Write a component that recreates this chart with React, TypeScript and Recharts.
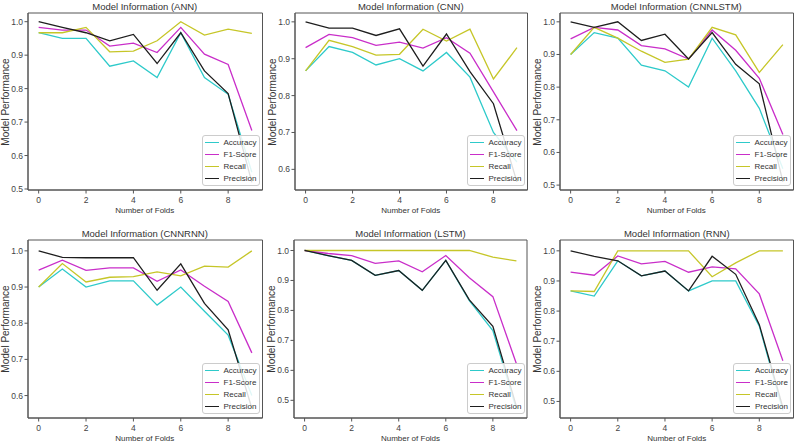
import React from 'react'
import { LineChart, Line, XAxis, YAxis, ReferenceArea, Legend } from 'recharts'

const FONT = '"Liberation Sans", Arial, sans-serif'

const folds = [0, 1, 2, 3, 4, 5, 6, 7, 8, 9]
const xTicks = [0, 2, 4, 6, 8]
const xDomain: [number, number] = [-0.45, 9.45]
const yTicksWide = [0.5, 0.6, 0.7, 0.8, 0.9, 1.0]
const yTicksNarrow = [0.6, 0.7, 0.8, 0.9, 1.0]

const annAccuracy = [0.967, 0.95, 0.95, 0.867, 0.883, 0.833, 0.967, 0.833, 0.783, 0.55]
const annF1 = [0.983, 0.975, 0.975, 0.927, 0.936, 0.908, 0.983, 0.903, 0.872, 0.675]
const annRecall = [0.967, 0.967, 0.983, 0.91, 0.912, 0.943, 1.0, 0.96, 0.978, 0.965]
const annPrecision = [1.0, 0.983, 0.967, 0.943, 0.962, 0.875, 0.967, 0.853, 0.785, 0.52]

const cnnAccuracy = [0.867, 0.933, 0.917, 0.883, 0.9, 0.867, 0.917, 0.85, 0.7, 0.62]
const cnnF1 = [0.93, 0.966, 0.957, 0.936, 0.945, 0.929, 0.957, 0.915, 0.81, 0.705]
const cnnRecall = [0.867, 0.95, 0.933, 0.91, 0.912, 0.98, 0.948, 0.98, 0.845, 0.93]
const cnnPrecision = [1.0, 0.983, 0.983, 0.963, 0.981, 0.88, 0.967, 0.865, 0.778, 0.566]

const cnnlstmAccuracy = [0.9, 0.967, 0.95, 0.867, 0.85, 0.8, 0.95, 0.85, 0.735, 0.55]
const cnnlstmF1 = [0.948, 0.983, 0.975, 0.927, 0.917, 0.886, 0.975, 0.913, 0.827, 0.655]
const cnnlstmRecall = [0.9, 0.983, 0.95, 0.91, 0.876, 0.886, 0.983, 0.96, 0.845, 0.93]
const cnnlstmPrecision = [1.0, 0.983, 1.0, 0.943, 0.962, 0.886, 0.967, 0.87, 0.81, 0.51]

const cnnrnnAccuracy = [0.9, 0.95, 0.9, 0.917, 0.917, 0.85, 0.9, 0.833, 0.767, 0.6]
const cnnrnnF1 = [0.947, 0.974, 0.946, 0.953, 0.953, 0.916, 0.947, 0.902, 0.86, 0.718]
const cnnrnnRecall = [0.9, 0.965, 0.914, 0.927, 0.929, 0.942, 0.931, 0.958, 0.955, 1.0]
const cnnrnnPrecision = [1.0, 0.982, 0.981, 0.981, 0.981, 0.891, 0.964, 0.855, 0.782, 0.565]

const lstmAccuracy = [1.0, 0.983, 0.967, 0.917, 0.933, 0.867, 0.967, 0.833, 0.733, 0.47]
const lstmF1 = [1.0, 0.99, 0.983, 0.957, 0.965, 0.929, 0.983, 0.909, 0.846, 0.622]
const lstmRecall = [1.0, 1.0, 1.0, 1.0, 1.0, 1.0, 1.0, 1.0, 0.978, 0.965]
const lstmPrecision = [1.0, 0.983, 0.967, 0.917, 0.933, 0.867, 0.967, 0.835, 0.747, 0.48]

const rnnAccuracy = [0.867, 0.85, 0.967, 0.917, 0.933, 0.867, 0.9, 0.9, 0.75, 0.47]
const rnnF1 = [0.929, 0.919, 0.983, 0.957, 0.965, 0.929, 0.947, 0.94, 0.857, 0.635]
const rnnRecall = [0.867, 0.865, 1.0, 1.0, 1.0, 1.0, 0.914, 0.96, 1.0, 1.0]
const rnnPrecision = [1.0, 0.982, 0.967, 0.917, 0.933, 0.867, 0.982, 0.922, 0.755, 0.48]

const SERIES = [
  { key: 'Accuracy', color: '#2ecaca' },
  { key: 'F1-Score', color: '#c92ec9' },
  { key: 'Recall', color: '#c6c628' },
  { key: 'Precision', color: '#1e1e1e' },
]

type Box = { left: number; top: number; width: number; height: number }

interface PanelProps {
  title: string
  box: Box
  yDomain: [number, number]
  yTicks: number[]
  acc: number[]
  f1: number[]
  rec: number[]
  prec: number[]
}

const YW = 30
const XH = 30
const MT = 1
const MR = 3

function LegendBox() {
  return (
    <div
      style={{
        width: 58,
        height: 51,
        boxSizing: 'border-box',
        border: '1px solid #cccccc',
        borderRadius: 3,
        background: 'rgba(255,255,255,0.85)',
        padding: '1px 0 0 2px',
        fontFamily: FONT,
        fontSize: 8,
        color: '#333',
      }}
    >
      {SERIES.map(s => (
        <div key={s.key} style={{ display: 'flex', alignItems: 'center', height: 12 }}>
          <span
            style={{ display: 'inline-block', flexShrink: 0, width: 14, height: 1.5, background: s.color, marginRight: 5 }}
          />
          <span style={{ whiteSpace: 'nowrap', lineHeight: '10px' }}>{s.key}</span>
        </div>
      ))}
    </div>
  )
}

function Panel({ title, box, yDomain, yTicks, acc, f1, rec, prec }: PanelProps) {
  const data = folds.map((fold, i) => ({
    fold,
    Accuracy: acc[i],
    'F1-Score': f1[i],
    Recall: rec[i],
    Precision: prec[i],
  }))
  const tickStyle = { fontSize: 8.5, fill: '#444', fontFamily: FONT }

  return (
    <div style={{ position: 'absolute', left: box.left - YW, top: box.top - MT }}>
      <div
        style={{
          position: 'absolute',
          left: YW,
          width: box.width,
          top: MT - 12,
          lineHeight: '12px',
          textAlign: 'center',
          fontFamily: FONT,
          fontSize: 9.5,
          color: '#333',
          whiteSpace: 'nowrap',
        }}
      >
        {title}
      </div>
      <LineChart
        width={YW + box.width + MR}
        height={MT + box.height + XH}
        data={data}
        margin={{ top: MT, right: MR, left: 0, bottom: 0 }}
      >
        <XAxis
          dataKey="fold"
          type="number"
          domain={xDomain}
          ticks={xTicks}
          allowDataOverflow
          height={XH}
          tickSize={3.5}
          tickMargin={3}
          stroke="#555"
          tick={tickStyle}
        />
        <YAxis
          type="number"
          domain={yDomain}
          ticks={yTicks}
          allowDataOverflow
          width={YW}
          tickSize={3.5}
          tickMargin={1.5}
          stroke="#555"
          tick={tickStyle}
          tickFormatter={(v: number) => v.toFixed(1)}
        />
        <ReferenceArea
          x1={xDomain[0]}
          x2={xDomain[1]}
          y1={yDomain[0]}
          y2={yDomain[1]}
          fill="none"
          stroke="#555"
          strokeWidth={1}
          ifOverflow="visible"
        />
        {SERIES.map(s => (
          <Line
            key={s.key}
            type="linear"
            dataKey={s.key}
            stroke={s.color}
            strokeWidth={1.3}
            dot={false}
            isAnimationActive={false}
          />
        ))}
        <Legend
          layout="horizontal"
          verticalAlign="middle"
          align="center"
          content={() => <LegendBox />}
          wrapperStyle={{ left: YW + box.width - 2.5 - 58, top: MT + box.height - 4.5 - 51, width: 58, height: 51 }}
        />
      </LineChart>
      <div
        style={{
          position: 'absolute',
          left: 7,
          top: MT + box.height / 2,
          transform: 'translate(-50%, -50%) rotate(-90deg)',
          fontFamily: FONT,
          fontSize: 10,
          color: '#333',
          whiteSpace: 'nowrap',
        }}
      >
        Model Performance
      </div>
      <div
        style={{
          position: 'absolute',
          left: YW,
          width: box.width,
          top: MT + box.height + 15,
          lineHeight: '12px',
          textAlign: 'center',
          fontFamily: FONT,
          fontSize: 8,
          color: '#333',
          whiteSpace: 'nowrap',
        }}
      >
        Number of Folds
      </div>
    </div>
  )
}

export default function App() {
  return (
    <div style={{ position: 'absolute', left: 0, top: 0, width: 796, height: 445, background: '#fff', overflow: 'hidden' }}>
      <Panel
        title="Model Information (ANN)"
        box={{ left: 27.5, top: 13, width: 234.5, height: 177 }}
        yDomain={[0.497, 1.026]}
        yTicks={yTicksWide}
        acc={annAccuracy}
        f1={annF1}
        rec={annRecall}
        prec={annPrecision}
      />
      <Panel
        title="Model Information (CNN)"
        box={{ left: 294.5, top: 13, width: 232.5, height: 177 }}
        yDomain={[0.544, 1.024]}
        yTicks={yTicksNarrow}
        acc={cnnAccuracy}
        f1={cnnF1}
        rec={cnnRecall}
        prec={cnnPrecision}
      />
      <Panel
        title="Model Information (CNNLSTM)"
        box={{ left: 559.5, top: 13, width: 233.5, height: 177 }}
        yDomain={[0.485, 1.027]}
        yTicks={yTicksWide}
        acc={cnnlstmAccuracy}
        f1={cnnlstmF1}
        rec={cnnlstmRecall}
        prec={cnnlstmPrecision}
      />
      <Panel
        title="Model Information (CNNRNN)"
        box={{ left: 27.5, top: 240, width: 234.5, height: 178 }}
        yDomain={[0.538, 1.03]}
        yTicks={yTicksNarrow}
        acc={cnnrnnAccuracy}
        f1={cnnrnnF1}
        rec={cnnrnnRecall}
        prec={cnnrnnPrecision}
      />
      <Panel
        title="Model Information (LSTM)"
        box={{ left: 294, top: 240, width: 233, height: 178 }}
        yDomain={[0.441, 1.035]}
        yTicks={yTicksWide}
        acc={lstmAccuracy}
        f1={lstmF1}
        rec={lstmRecall}
        prec={lstmPrecision}
      />
      <Panel
        title="Model Information (RNN)"
        box={{ left: 560, top: 240, width: 233.5, height: 178 }}
        yDomain={[0.445, 1.036]}
        yTicks={yTicksWide}
        acc={rnnAccuracy}
        f1={rnnF1}
        rec={rnnRecall}
        prec={rnnPrecision}
      />
    </div>
  )
}
